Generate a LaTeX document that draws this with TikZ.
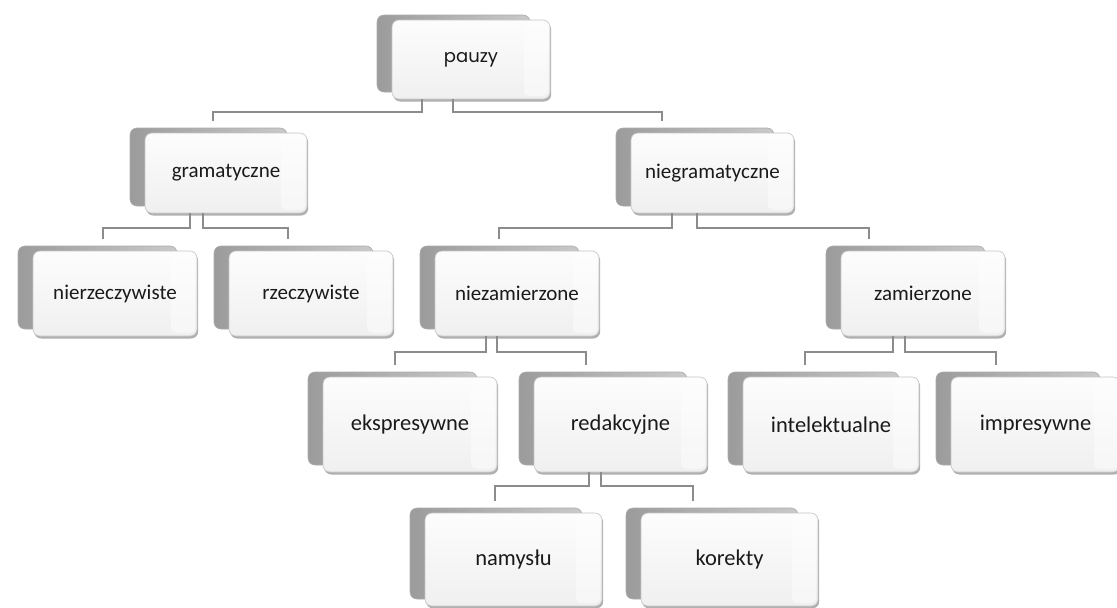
\documentclass[tikz,border=0pt]{standalone}
\usepackage{fontspec}
\setmainfont{Carlito}
\newfontfamily\popp{Poppins}
\definecolor{linegray}{HTML}{8C8C8C}
\definecolor{txt}{HTML}{1A1A1A}
\tikzset{
  backbox/.style={rounded corners=7pt, left color=gray!78, right color=gray!42, draw=gray!65, line width=0.6pt, inner sep=0pt},
  shadowbox/.style={rounded corners=7pt, fill=gray!62, inner sep=0pt},
  frontbox/.style={rounded corners=7pt, top color=gray!2, bottom color=gray!12, draw=gray!45, line width=0.6pt, inner sep=0pt},
  boxtext/.style={inner sep=0pt, text=txt, font=\fontsize{21}{24}\selectfont},
  conn/.style={draw=linegray, line width=2pt, shorten >=7pt},
}
% name, x1, y1, x2, y2, text
\newcommand\tbox[6]{%
  \node[backbox, minimum width={(#4-#2-5)*1pt}, minimum height={(#5-#3-2)*1pt}] (#1B) at ({(#2+#4)/2-17.5},{(#3+#5)/2-6}) {};
  \node[shadowbox, minimum width={(#4-#2)*1pt}, minimum height={(#5-#3)*1pt}] (#1S) at ({(#2+#4)/2+1.2},{(#3+#5)/2+2.5}) {};
  \node[frontbox, minimum width={(#4-#2)*1pt}, minimum height={(#5-#3)*1pt}] (#1) at ({(#2+#4)/2},{(#3+#5)/2}) {};
  \fill[white, opacity=0.45, rounded corners=5pt] (#4-26,#3+2) rectangle (#4-2,#5-3);
  \node[boxtext] (#1T) at (#1) {#6};
}
\begin{document}
\begin{tikzpicture}[x=1pt, y=-1pt]
\useasboundingbox (0,0) rectangle (1117,608);
\fill[white] (0,0) rectangle (1117,608);

\tbox{pauzy}{392}{20}{550}{99}{\popp\fontsize{18}{22}\selectfont pauzy}
\tbox{gram}{145}{133}{307}{213}{gramatyczne}
\tbox{niegram}{631}{133}{794}{213}{niegramatyczne}
\tbox{nierz}{33}{251}{197}{336}{nierzeczywiste}
\tbox{rzecz}{229}{251}{393}{336}{rzeczywiste}
\tbox{niezam}{435}{251}{599}{336}{niezamierzone}
\tbox{zam}{841}{251}{1005}{336}{zamierzone}
\tbox{ekspr}{323}{377}{497}{472}{\fontsize{22.5}{26}\selectfont ekspresywne}
\tbox{redak}{534}{377}{707}{472}{\fontsize{22.5}{26}\selectfont redakcyjne}
\tbox{intel}{743}{377}{919}{472}{\fontsize{22.5}{26}\selectfont intelektualne}
\tbox{impr}{951}{377}{1120}{472}{\fontsize{22.5}{26}\selectfont impresywne}
\tbox{namys}{425}{513}{602}{606}{\fontsize{22.5}{26}\selectfont namysłu}
\tbox{korek}{641}{513}{818}{606}{\fontsize{22.5}{26}\selectfont korekty}

% connectors
\draw[conn] (pauzy.south -| 422,0) -- ++(0,13) -| (gramB.north -| 213,0);
\draw[conn] (pauzy.south -| 453,0) -- ++(0,13) -| (niegramB.north -| 662,0);
\draw[conn] (gram.south -| 190,0) -- ++(0,15) -| (nierzB.north -| 103,0);
\draw[conn] (gram.south -| 203,0) -- ++(0,15) -| (rzeczB.north -| 288,0);
\draw[conn] (niegram.south -| 672,0) -- ++(0,15) -| (niezamB.north -| 499,0);
\draw[conn] (niegram.south -| 697,0) -- ++(0,15) -| (zamB.north -| 869,0);
\draw[conn] (niezam.south -| 486,0) -- ++(0,16) -| (eksprB.north -| 395,0);
\draw[conn] (niezam.south -| 497,0) -- ++(0,16) -| (redakB.north -| 586,0);
\draw[conn] (zam.south -| 893,0) -- ++(0,16) -| (intelB.north -| 805,0);
\draw[conn] (zam.south -| 905,0) -- ++(0,16) -| (imprB.north -| 996,0);
\draw[conn] (redak.south -| 589,0) -- ++(0,14) -| (namysB.north -| 495,0);
\draw[conn] (redak.south -| 601,0) -- ++(0,14) -| (korekB.north -| 693,0);
\end{tikzpicture}
\end{document}
